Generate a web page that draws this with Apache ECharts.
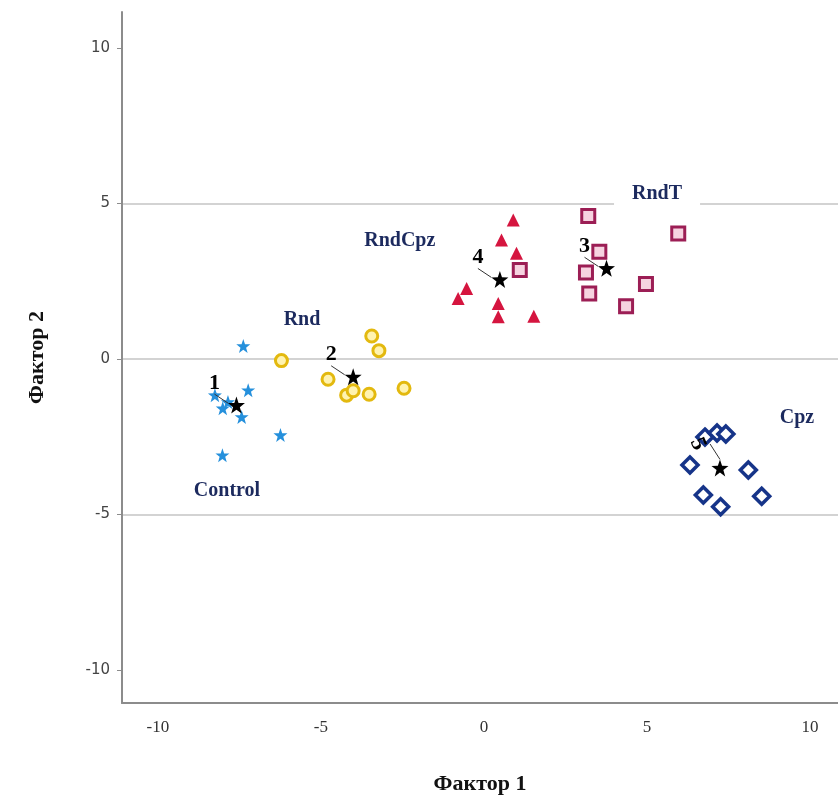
<!DOCTYPE html>
<html>
<head>
<meta charset="utf-8">
<script src="https://cdn.jsdelivr.net/npm/echarts@6/dist/echarts.min.js"></script>
<style>
  html, body { margin: 0; padding: 0; background: #ffffff; }
  #chart { width: 838px; height: 805px; }
</style>
</head>
<body>
<div id="chart"></div>
<script>
// Factor scores per group (Фактор 1 = x, Фактор 2 = y)
const controlX = [-7.38, -7.23, -8.25, -8.01, -7.85, -7.43, -6.24, -8.02];
const controlY = [0.42, -1.00, -1.16, -1.58, -1.38, -1.86, -2.44, -3.09];

const rndX = [-6.21, -3.44, -3.22, -4.78, -4.21, -4.01, -3.52, -2.45];
const rndY = [-0.05, 0.74, 0.27, -0.65, -1.16, -1.02, -1.13, -0.94];

const rndCpzX = [0.90, 0.54, 1.00, -0.53, -0.79, 0.44, 0.44, 1.53];
const rndCpzY = [4.47, 3.83, 3.40, 2.27, 1.95, 1.79, 1.36, 1.38];

const rndTX = [1.10, 3.20, 5.96, 3.54, 3.13, 3.23, 4.97, 4.36];
const rndTY = [2.86, 4.60, 4.04, 3.45, 2.78, 2.11, 2.41, 1.70];

const cpzX = [6.78, 7.15, 7.42, 6.32, 8.11, 6.73, 7.26, 8.52];
const cpzY = [-2.51, -2.38, -2.41, -3.41, -3.57, -4.37, -4.75, -4.41];

// Group centroids with their numbers
const centroidNames = ['1', '2', '3', '4', '5'];
const centroidX = [-7.59, -4.01, 3.76, 0.49, 7.24];
const centroidY = [-1.48, -0.57, 2.92, 2.56, -3.50];

// Group name tags and where they sit on the plane
const groupNames = ['Control', 'Rnd', 'RndCpz', 'RndT', 'Cpz'];
const groupTagX = [-7.88, -5.58, -2.58, 5.31, 9.60];
const groupTagY = [-4.24, 1.25, 3.79, 5.31, -1.90];

// Axis ticks
const xTicks = [-10, -5, 0, 5, 10];
const yTicks = [-10, -5, 0, 5, 10];

const zip = (xs, ys) => xs.map((x, i) => [x, ys[i]]);

const starPath = 'path://M0,-10 L2.35,-3.24 L9.51,-3.09 L3.8,1.24 L5.88,8.09 L0,4 L-5.88,8.09 L-3.8,1.24 L-9.51,-3.09 L-2.35,-3.24 Z';

const serif = '"Liberation Serif", "DejaVu Serif", serif';
const tagColor = '#1c2a5e';

// Number tags sit up-left of each centroid; the last one is drawn tilted,
// so its offset is given before the rotation is applied.
function centroidLabelLayout(p) {
  if (p.dataIndex === 4) {
    return { dx: -31, dy: 10, rotate: -65 };
  }
  return { dx: -22, dy: -22 };
}

const chart = echarts.init(document.getElementById('chart'), null, { renderer: 'canvas' });

const option = {
  animation: false,
  backgroundColor: '#ffffff',
  grid: { left: 122, right: 0, top: 12, bottom: 102, containLabel: false },
  xAxis: {
    type: 'value',
    min: -11.1,
    max: 10.86,
    name: 'Фактор 1',
    nameLocation: 'middle',
    nameGap: 70,
    nameTextStyle: { fontFamily: serif, fontWeight: 'bold', fontSize: 22, color: '#111' },
    axisLine: { show: true, onZero: false, lineStyle: { color: '#8c8c8c', width: 2 } },
    axisTick: { show: false, customValues: xTicks },
    axisLabel: {
      customValues: xTicks,
      margin: 16,
      fontFamily: serif,
      fontSize: 17,
      color: '#333'
    },
    splitLine: { show: false }
  },
  yAxis: {
    type: 'value',
    min: -11.06,
    max: 11.16,
    name: 'Фактор 2',
    nameLocation: 'middle',
    nameGap: 74,
    nameRotate: 90,
    nameTextStyle: { fontFamily: serif, fontWeight: 'bold', fontSize: 22, color: '#111' },
    axisLine: { show: true, onZero: false, lineStyle: { color: '#8c8c8c', width: 2 } },
    axisTick: { show: true, customValues: yTicks, length: 5, lineStyle: { color: '#8c8c8c' } },
    axisLabel: {
      customValues: yTicks,
      margin: 12,
      fontFamily: '"DejaVu Sans", Verdana, sans-serif',
      fontSize: 15,
      color: '#444'
    },
    splitLine: {
      show: true,
      showMinLine: false,
      showMaxLine: false,
      lineStyle: { color: '#c4c4c4', width: 1.5 }
    }
  },
  series: [
    {
      name: 'Control',
      type: 'scatter',
      symbol: starPath,
      symbolSize: 14,
      itemStyle: { color: '#2590dc', opacity: 1 },
      data: zip(controlX, controlY),
      z: 3
    },
    {
      name: 'Rnd',
      type: 'scatter',
      symbol: 'circle',
      symbolSize: 12,
      itemStyle: { color: '#fff3b0', borderColor: '#e3b90f', borderWidth: 3, opacity: 1 },
      data: zip(rndX, rndY),
      z: 3
    },
    {
      name: 'RndCpz',
      type: 'scatter',
      symbol: 'triangle',
      symbolSize: 13,
      itemStyle: { color: '#d5153f', opacity: 1 },
      data: zip(rndCpzX, rndCpzY),
      z: 3
    },
    {
      name: 'RndT',
      type: 'scatter',
      symbol: 'rect',
      symbolSize: 13,
      itemStyle: { color: '#f6d3e0', borderColor: '#9c1e55', borderWidth: 3, opacity: 1 },
      data: zip(rndTX, rndTY),
      z: 3
    },
    {
      name: 'Cpz',
      type: 'scatter',
      symbol: 'diamond',
      symbolSize: 16,
      itemStyle: { color: '#ffffff', borderColor: '#163489', borderWidth: 3.5, opacity: 1 },
      data: zip(cpzX, cpzY),
      z: 3
    },
    {
      name: 'centroids',
      type: 'scatter',
      symbol: starPath,
      symbolSize: 17,
      itemStyle: { color: '#000000', opacity: 1 },
      z: 5,
      data: centroidNames.map((n, i) => ({ name: n, value: [centroidX[i], centroidY[i]] })),
      label: {
        show: true,
        position: 'inside',
        formatter: p => p.name,
        fontFamily: serif,
        fontWeight: 'bold',
        fontSize: 22,
        color: '#000'
      },
      labelLayout: centroidLabelLayout,
      labelLine: { show: true, length2: 0, lineStyle: { color: '#333', width: 1 } }
    },
    {
      name: 'tags',
      type: 'scatter',
      symbolSize: 0,
      silent: true,
      z: 4,
      itemStyle: { opacity: 1 },
      data: groupNames.map((n, i) => ({ name: n, value: [groupTagX[i], groupTagY[i]] })),
      label: {
        show: true,
        position: 'inside',
        formatter: p => p.name,
        fontFamily: serif,
        fontWeight: 'bold',
        fontSize: 20,
        color: tagColor,
        backgroundColor: '#ffffff',
        padding: [2, 18]
      }
    }
  ]
};

chart.setOption(option);
</script>
</body>
</html>
